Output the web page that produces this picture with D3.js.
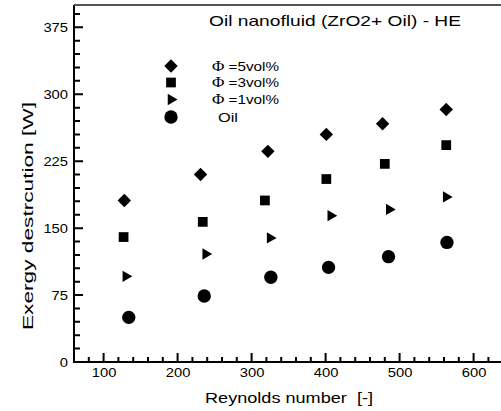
<!DOCTYPE html>
<html>
<head>
<meta charset="utf-8">
<script src="https://cdn.jsdelivr.net/npm/d3@7"></script>
<style>
body { margin: 0; background: #fff; }
text { font-family: "Liberation Sans", Arial, sans-serif; fill: #000; }
</style>
</head>
<body>
<div id="chart"></div>
<script>
// Reynolds number and exergy destruction
var re5 = [128, 231, 322, 401, 477, 563];
var ex5 = [181, 210, 236, 255, 267, 283];
var re3 = [127, 234, 318, 401, 480, 563];
var ex3 = [140, 157, 181, 205, 222, 243];
var re1 = [130, 238, 325, 407, 486, 563];
var ex1 = [96, 121, 139, 164, 171, 185];
var reOil = [134, 236, 326, 404, 485, 564];
var exOil = [50, 74, 95, 106, 118, 134];

var seriesNames = ['\u03A6 =5vol%', '\u03A6 =3vol%', '\u03A6 =1vol%', 'Oil'];
var xTicks = [100, 200, 300, 400, 500, 600];
var yTicks = [0, 75, 150, 225, 300, 375];

var width = 501,
	height = 411;
var margin = {left: 74, top: 5, bottom: 49};

var svg = d3.select('#chart')
	.append('svg')
	.attr('width', width)
	.attr('height', height);

var x = d3.scaleLinear().domain([60, 640]).range([margin.left, margin.left + 580 * 0.74]);
var y = d3.scaleLinear().domain([0, 400]).range([height - margin.bottom, margin.top]);

var xAxis = svg.append('g')
	.attr('transform', `translate(0, ${y(0)})`)
	.call(d3.axisBottom(x).tickValues(xTicks).tickSize(0).tickPadding(6));
var yAxis = svg.append('g')
	.attr('transform', `translate(${x(60)}, 0)`)
	.call(d3.axisLeft(y).tickValues(yTicks).tickSize(0).tickPadding(6));

svg.selectAll('.domain').remove();
svg.selectAll('.tick text')
	.attr('font-size', 13)
	.attr('font-family', '"Liberation Sans", Arial, sans-serif')
	.attr('textLength', function() { return this.textContent.length * 8.2; })
	.attr('lengthAdjust', 'spacingAndGlyphs');

var shapes = [
	d3.symbol().type(d3.symbolSquare).size(90),
	d3.symbol().type(d3.symbolSquare).size(95),
	d3.symbol().type(d3.symbolTriangle).size(55),
	d3.symbol().type(d3.symbolCircle).size(140)
];
var rotations = [45, 0, 90, 0];

var series = [
	{x: re5, y: ex5},
	{x: re3, y: ex3},
	{x: re1, y: ex1},
	{x: reOil, y: exOil}
];

series.forEach((s, i) => {
	svg.append('g')
		.selectAll('path')
		.data(s.x)
		.enter()
		.append('path')
		.attr('d', shapes[i])
		.attr('fill', '#000')
		.attr('transform', (d, j) => `translate(${x(d)}, ${y(s.y[j])}) rotate(${rotations[i]})`);
});

// legend
var legendY = [66, 82.5, 99.5, 117];
var legend = svg.append('g');
seriesNames.forEach((name, i) => {
	legend.append('path')
		.attr('d', shapes[i])
		.attr('fill', '#000')
		.attr('transform', `translate(171, ${legendY[i]}) rotate(${rotations[i]})`);
	var t = legend.append('text')
		.attr('x', i == 3 ? 218 : 212)
		.attr('y', legendY[i])
		.attr('dy', '0.35em')
		.attr('font-size', 13.5);
	if (i < 3) {
		t.attr('textLength', 67).attr('lengthAdjust', 'spacingAndGlyphs');
		t.append('tspan').attr('font-family', '"Liberation Serif", serif').attr('font-size', 15).text('\u03A6');
		t.append('tspan').text(name.slice(1));
	} else {
		t.attr('textLength', 20).attr('lengthAdjust', 'spacingAndGlyphs').text(name);
	}
});

svg.append('text')
	.attr('x', 209)
	.attr('y', 21)
	.attr('dy', '0.35em')
	.attr('font-size', 14.5)
	.attr('textLength', 252)
	.attr('lengthAdjust', 'spacingAndGlyphs')
	.text('Oil nanofluid (ZrO2+ Oil) - HE');

svg.append('text')
	.attr('x', 205)
	.attr('y', 398)
	.attr('dy', '0.35em')
	.attr('font-size', 14)
	.attr('textLength', 168)
	.attr('lengthAdjust', 'spacingAndGlyphs')
	.attr('xml:space', 'preserve')
	.style('white-space', 'pre')
	.text('Reynolds number  [-]');

svg.append('text')
	.attr('transform', 'translate(28, 216) rotate(-90)')
	.attr('x', -114)
	.attr('dy', '0.35em')
	.attr('font-size', 14)
	.attr('textLength', 228)
	.attr('lengthAdjust', 'spacingAndGlyphs')
	.text('Exergy destrcution [W]');

// frame lines
svg.append('line')
	.attr('x1', x(60)).attr('x2', width)
	.attr('y1', y(0)).attr('y2', y(0))
	.attr('stroke', '#000').attr('stroke-width', 2);
svg.append('line')
	.attr('x1', x(60)).attr('x2', x(60))
	.attr('y1', y(0) + 1).attr('y2', y(400))
	.attr('stroke', '#000').attr('stroke-width', 2);
svg.append('line')
	.attr('x1', x(60)).attr('x2', width)
	.attr('y1', y(400)).attr('y2', y(400))
	.attr('stroke', '#555').attr('stroke-width', 2);

// tick marks from the scales, pointing into the plot (major longer), drawn last
var xMinor = d3.range(80, 640, 20);
var yMinor = d3.range(15, 400, 15);
svg.append('path')
	.attr('fill', 'none')
	.attr('stroke', '#000')
	.attr('stroke-width', 2)
	.attr('d', xMinor.map(d => `M${x(d)},${y(0)}V${y(0) - (d % 100 == 0 ? 9 : 5)}`).join('')
		+ yMinor.map(d => `M${x(60)},${y(d)}H${x(60) + (d % 75 == 0 ? 9 : 6)}`).join(''));
</script>
</body>
</html>
